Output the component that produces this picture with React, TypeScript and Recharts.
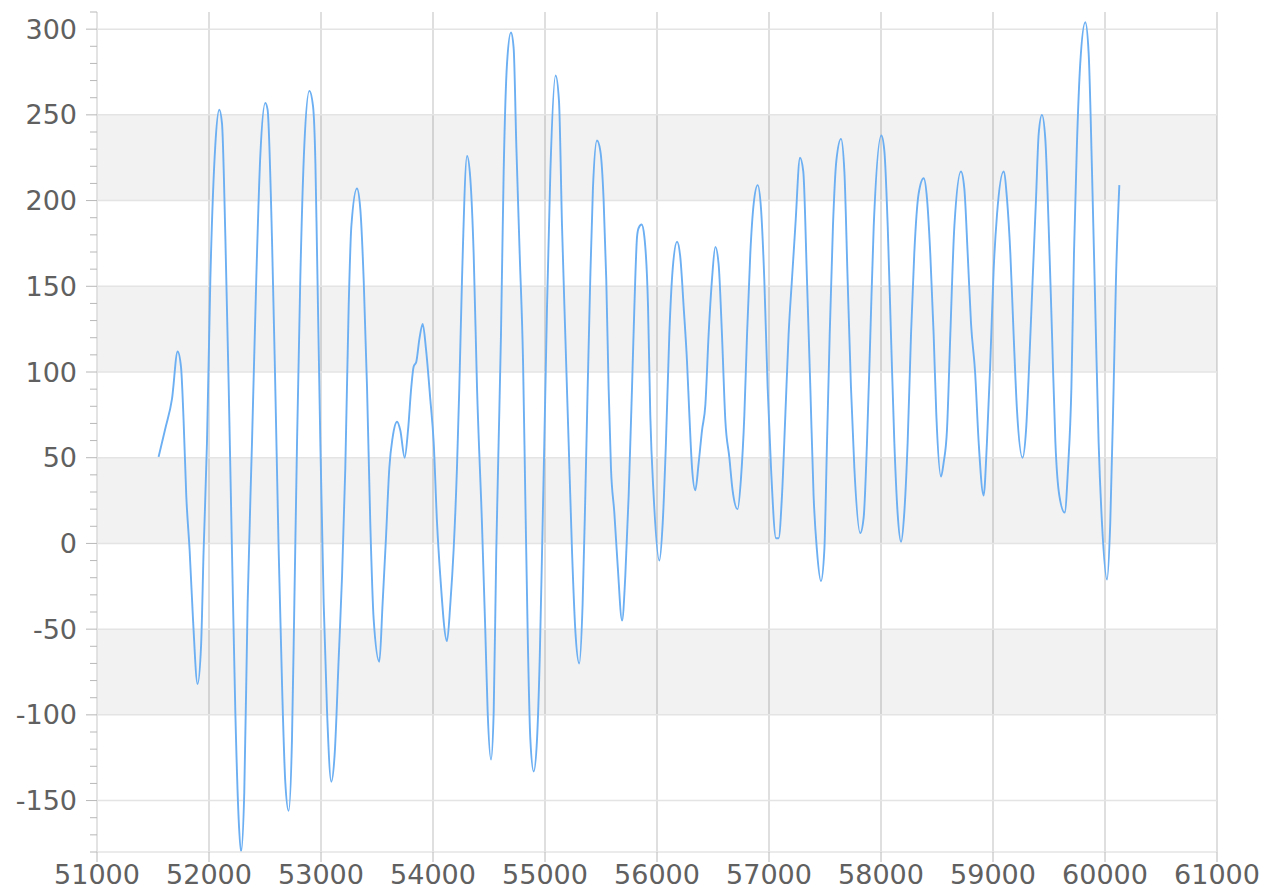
import React from "react";
import {
  LineChart,
  Line,
  XAxis,
  YAxis,
  CartesianGrid,
  ReferenceArea,
  ReferenceLine,
} from "recharts";

// sample positions
const xs = [
  51550, 51610, 51670, 51720, 51750, 51773, 51797, 51827, 51857, 51898,
  51929, 51952, 51982, 52012, 52056, 52092, 52116, 52146, 52176, 52205,
  52235, 52265, 52286, 52315, 52345, 52384, 52422, 52458, 52503, 52523,
  52563, 52592, 52622, 52652, 52681, 52711, 52741, 52762, 52786, 52815,
  52851, 52896, 52929, 52950, 52964, 52994, 53024, 53054, 53092, 53122,
  53158, 53188, 53217, 53247, 53271, 53321, 53351, 53381, 53411, 53440,
  53470, 53521, 53550, 53580, 53610, 53640, 53679, 53708, 53747, 53777,
  53806, 53827, 53851, 53878, 53908, 53938, 53976, 54006, 54036, 54065,
  54125, 54155, 54184, 54214, 54235, 54259, 54304, 54333, 54363, 54393,
  54437, 54467, 54488, 54518, 54542, 54565, 54586, 54607, 54631, 54661,
  54696, 54720, 54744, 54774, 54804, 54824, 54845, 54869, 54899, 54929,
  54953, 54974, 54994, 55018, 55048, 55095, 55125, 55152, 55181, 55211,
  55241, 55271, 55306, 55336, 55360, 55381, 55404, 55428, 55464, 55494,
  55523, 55547, 55568, 55589, 55619, 55649, 55688, 55717, 55747, 55777,
  55798, 55822, 55836, 55863, 55887, 55920, 55940, 55970, 56021, 56051,
  56080, 56110, 56140, 56179, 56208, 56238, 56268, 56289, 56313, 56342,
  56372, 56402, 56432, 56461, 56491, 56521, 56550, 56580, 56610, 56646,
  56675, 56720, 56750, 56780, 56804, 56833, 56863, 56899, 56929, 56958,
  56988, 57018, 57063, 57086, 57116, 57146, 57175, 57205, 57235, 57277,
  57306, 57339, 57369, 57398, 57428, 57464, 57494, 57518, 57542, 57571,
  57601, 57643, 57673, 57702, 57732, 57762, 57815, 57845, 57875, 57905,
  57935, 58003, 58030, 58060, 58089, 58119, 58148, 58179, 58208, 58238,
  58268, 58297, 58336, 58381, 58411, 58440, 58470, 58494, 58536, 58559,
  58589, 58619, 58655, 58714, 58744, 58774, 58804, 58840, 58872, 58916,
  58946, 58976, 59006, 59036, 59095, 59125, 59155, 59184, 59214, 59264,
  59295, 59324, 59354, 59384, 59408, 59437, 59467, 59497, 59527, 59557,
  59592, 59640, 59670, 59700, 59723, 59749, 59779, 59824, 59854, 59884,
  59913, 59943, 59973, 60018, 60047, 60077, 60098, 60128,
];

const values = [
  50.5, 67, 84.5, 112, 103, 72, 28, -4, -44, -82,
  -60, -4, 59, 154, 232, 253, 245, 179, 91, -4,
  -98, -161, -180, -145, -35, 59, 154, 226, 257, 253,
  176, 91, -4, -82, -139, -156, -114, -35, 59, 154,
  232, 264, 255, 222, 172, 59, -35, -98, -139, -123,
  -67, -19, 44, 138, 185, 207, 195, 154, 91, 12,
  -44, -69, -35, 3, 44, 62, 71, 66, 50, 66,
  91, 103, 106, 119, 128, 113, 84, 59, 12, -19,
  -57, -35, -4, 44, 91, 154, 226, 213, 169, 91,
  12, -51, -98, -126, -98, -4, 59, 122, 217, 280,
  298, 289, 232, 169, 106, 28, -51, -114, -133, -114,
  -67, -4, 59, 138, 217, 273, 258, 185, 122, 59,
  -4, -51, -70, -35, 28, 91, 154, 207, 235, 229,
  201, 154, 91, 44, 18, -13, -45, -19, 28, 91,
  138, 179, 184, 186, 179, 138, 75, 28, -10, 12,
  59, 122, 160, 176, 167, 138, 106, 75, 44, 31,
  47, 66, 81, 122, 154, 173, 163, 122, 72, 50,
  31, 20, 38, 75, 122, 169, 198, 209, 195, 154,
  91, 44, 3, 3, 28, 75, 122, 154, 185, 225,
  217, 154, 91, 28, -4, -22, -4, 59, 122, 185,
  223, 236, 217, 154, 91, 44, 6, 15, 59, 122,
  185, 238, 229, 185, 122, 59, 18, 1, 18, 59,
  122, 169, 204, 213, 201, 169, 122, 75, 39, 47,
  66, 122, 185, 217, 207, 169, 128, 100, 59, 28,
  59, 106, 160, 192, 217, 201, 169, 122, 78, 50,
  66, 106, 154, 201, 239, 250, 236, 185, 122, 59,
  28, 18, 44, 91, 169, 232, 280, 304, 286, 217,
  138, 59, 12, -21, 12, 91, 154, 209,
];

const xTicks = [51000, 52000, 53000, 54000, 55000, 56000, 57000, 58000, 59000, 60000, 61000];
const yMajor = [-150, -100, -50, 0, 50, 100, 150, 200, 250, 300];
const yTicks = [
  -180, -170, -160, -150, -140, -130, -120, -110, -100, -90,
  -80, -70, -60, -50, -40, -30, -20, -10, 0, 10,
  20, 30, 40, 50, 60, 70, 80, 90, 100, 110,
  120, 130, 140, 150, 160, 170, 180, 190, 200, 210,
  220, 230, 240, 250, 260, 270, 280, 290, 300, 310,
];
// shaded bands: [from, to]
const bands = [
  [-100, -50],
  [0, 50],
  [100, 150],
  [200, 250],
];

const data = xs.map((x, i) => ({ x, v: values[i] }));

const FONT = "DejaVu Sans, Verdana, sans-serif";
const TEXT = "#606060";

function YTick(props: any) {
  const { x, y, payload } = props;
  const major = payload.value % 50 === 0;
  return (
    <g>
      <line x1={x - (major ? 11 : 7)} x2={x} y1={y} y2={y} stroke="#b8b8b8" strokeWidth={1} />
      {major && (
        <text
          x={x - 20}
          y={y}
          textAnchor="end"
          dominantBaseline="central"
          fill={TEXT}
          fontSize={27}
          fontFamily={FONT}
        >
          {payload.value}
        </text>
      )}
    </g>
  );
}

export default function App() {
  return (
    <div style={{ position: "absolute", left: 0, top: 0 }}>
      <LineChart
        width={1265}
        height={895}
        data={data}
        margin={{ top: 12, right: 48, bottom: 0, left: 7 }}
      >
        {bands.map(([a, b]) => (
          <ReferenceArea
            key={a}
            y1={a}
            y2={b}
            fill="#000000"
            fillOpacity={0.05}
            stroke="none"
          />
        ))}
        {yMajor.map((v) => (
          <ReferenceLine key={v} y={v} stroke="#e4e4e4" strokeWidth={1.5} />
        ))}
        <CartesianGrid horizontal={false} stroke="#d4d4d4" strokeWidth={1.5} />
        <XAxis
          xAxisId="top"
          orientation="top"
          type="number"
          dataKey="x"
          domain={[51000, 61000]}
          height={0}
          tick={false}
          tickLine={false}
          axisLine={{ stroke: "#e4e4e4", strokeWidth: 1.5 }}
        />
        <XAxis
          type="number"
          dataKey="x"
          domain={[51000, 61000]}
          ticks={xTicks}
          interval={0}
          height={43}
          tickSize={10}
          tickMargin={3}
          tickLine={{ stroke: "#b8b8b8" }}
          axisLine={{ stroke: "#e4e4e4", strokeWidth: 1.5 }}
          tick={{ fill: TEXT, fontSize: 27, fontFamily: FONT }}
          allowDataOverflow
        />
        <YAxis
          type="number"
          domain={[-180, 310]}
          ticks={yTicks}
          interval={0}
          width={90}
          tickSize={0}
          tickMargin={0}
          tickLine={false}
          axisLine={{ stroke: "#e4e4e4", strokeWidth: 1.5 }}
          tick={<YTick />}
          allowDataOverflow
        />
        <Line
          type="monotone"
          dataKey="v"
          stroke="#6caff2"
          strokeWidth={1.9}
          dot={false}
          isAnimationActive={false}
        />
      </LineChart>
    </div>
  );
}
